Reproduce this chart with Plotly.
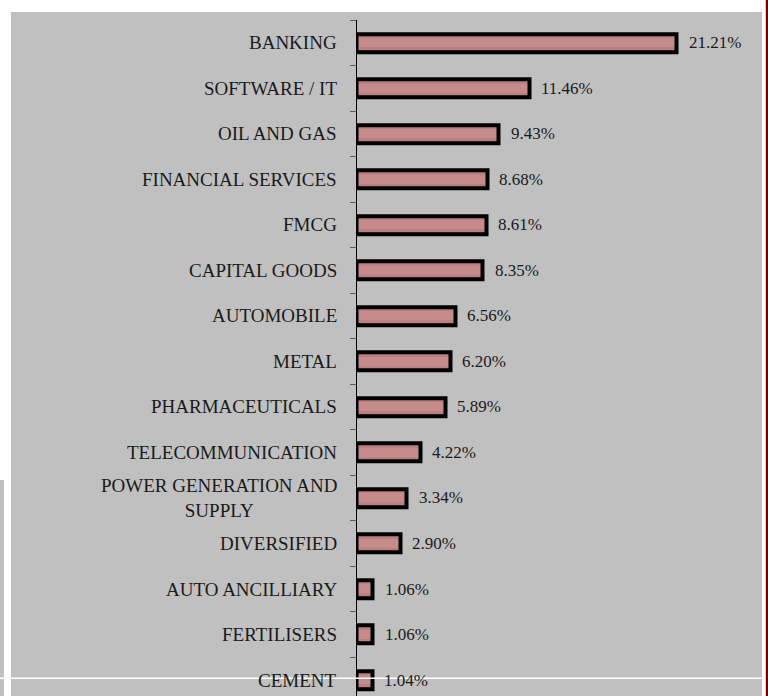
import plotly.graph_objects as go

# Sector allocation (% of portfolio), top to bottom
sectors = [
    "BANKING", "SOFTWARE / IT", "OIL AND GAS", "FINANCIAL SERVICES", "FMCG",
    "CAPITAL GOODS", "AUTOMOBILE", "METAL", "PHARMACEUTICALS", "TELECOMMUNICATION",
    "POWER GENERATION AND<br>SUPPLY", "DIVERSIFIED", "AUTO ANCILLIARY", "FERTILISERS", "CEMENT",
]
weights = [21.21, 11.46, 9.43, 8.68, 8.61, 8.35, 6.56, 6.20, 5.89, 4.22, 3.34, 2.90, 1.06, 1.06, 1.04]

W, H = 768, 696
GRAY = "#c0c0c0"
FONT = "Liberation Serif"
TEXT = "#1a1a1a"


def px_x(p):
    return p / W


def px_y(p):
    return 1 - p / H


fig = go.Figure()

# shaded bar body: darker edge, lighter core
for width, color in [(0.40, "#a96a6a"), (0.32, "#bb7f7f"), (0.20, "#c68c8c")]:
    fig.add_trace(go.Bar(
        x=weights, y=sectors, orientation="h", width=width,
        marker=dict(color=color, line=dict(width=0)),
        hoverinfo="skip", showlegend=False,
    ))
# black outline on top
fig.add_trace(go.Bar(
    x=weights, y=sectors, orientation="h", width=0.40,
    marker=dict(color="rgba(0,0,0,0)", line=dict(color="#000000", width=4)),
    showlegend=False,
    hovertemplate="%{y}: %{x:.2f}%<extra></extra>",
))

annotations = []
for s, v in zip(sectors, weights):
    annotations.append(dict(
        x=v, y=s, xref="x", yref="y", xanchor="left", yanchor="middle",
        xshift=10, text=f"{v:.2f}%", showarrow=False,
        font=dict(family=FONT, size=17, color=TEXT),
    ))
    annotations.append(dict(
        x=px_x(339), y=s, xref="paper", yref="y", xanchor="right", yanchor="middle",
        align="center", text=s, showarrow=False,
        font=dict(family=FONT, size=19, color=TEXT),
    ))

shapes = [
    # gray panel behind the chart
    dict(type="rect", xref="paper", yref="paper", layer="below",
         x0=px_x(11), x1=px_x(762), y0=px_y(12), y1=px_y(H),
         fillcolor=GRAY, line=dict(width=0)),
    dict(type="rect", xref="paper", yref="paper", layer="below",
         x0=0, x1=px_x(4), y0=px_y(480), y1=px_y(H),
         fillcolor=GRAY, line=dict(width=0)),
    # thin white rule near the bottom
    dict(type="rect", xref="paper", yref="paper", layer="above",
         x0=0, x1=px_x(762), y0=px_y(679), y1=px_y(677.6),
         fillcolor="#ffffff", line=dict(width=0)),
    # dark red page edge
    dict(type="rect", xref="paper", yref="paper", layer="above",
         x0=px_x(765.8), x1=1, y0=0, y1=1,
         fillcolor="#7a0000", line=dict(width=0)),
]

px_per_unit = 15.09
x_left, x_right = 356.5, 762
top_px = 20.25
row_px = 45.5
bottom_index = (len(sectors) - 1) + (H - (top_px + row_px * (len(sectors) - 0.5))) / row_px

fig.update_layout(
    width=W, height=H,
    margin=dict(l=0, r=0, t=0, b=0),
    paper_bgcolor="#ffffff",
    plot_bgcolor="rgba(0,0,0,0)",
    barmode="overlay",
    bargap=0,
    xaxis=dict(
        domain=[px_x(x_left), px_x(x_right)],
        range=[0, (x_right - x_left) / px_per_unit],
        visible=False, showgrid=False, zeroline=False,
    ),
    yaxis=dict(
        domain=[0, px_y(top_px)],
        type="category",
        categoryorder="array", categoryarray=sectors,
        range=[bottom_index, -0.5],
        showticklabels=False,
        showgrid=False, zeroline=False,
        showline=True, linecolor="#000000", linewidth=1,
        ticks="outside", tickson="boundaries", ticklen=6,
        tickcolor="#5a5a5a", tickwidth=1,
        automargin=False,
    ),
    annotations=annotations,
    shapes=shapes,
)

fig.write_html("out.html")
